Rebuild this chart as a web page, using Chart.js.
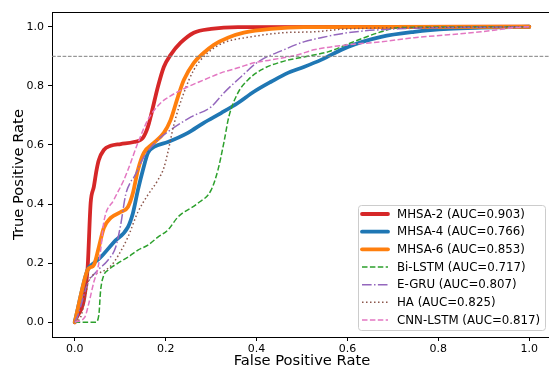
<!DOCTYPE html>
<html>
<head>
<meta charset="utf-8">
<script src="https://cdn.jsdelivr.net/npm/chart.js@4.4.1/dist/chart.umd.min.js"></script>
<style>
html,body{margin:0;padding:0;background:#fff;overflow:hidden;}
#wrap{width:549px;height:368px;overflow:hidden;position:relative;}
#c{position:absolute;left:0;top:0;}
</style>
</head>
<body>
<div id="wrap"><canvas id="c" width="553" height="368" style="width:553px;height:368px"></canvas></div>
<script>
// ---- data ----
const seriesNames = ["MHSA-2", "MHSA-4", "MHSA-6", "Bi-LSTM", "E-GRU", "HA", "CNN-LSTM"];
const aucValues = ["0.903", "0.766", "0.853", "0.717", "0.807", "0.825", "0.817"];

const mhsa2X = [0,0.002,0.028,0.035,0.042,0.048,0.053,0.064,0.079,0.101,0.130,0.150,0.161,0.167,0.183,0.196,0.211,0.233,0.262,0.300,0.359,1.0];
const mhsa2Y = [0,0.007,0.176,0.403,0.458,0.515,0.549,0.583,0.597,0.603,0.610,0.624,0.661,0.695,0.797,0.864,0.905,0.946,0.980,0.993,0.999,1.0];

const mhsa4X = [0,0.028,0.042,0.057,0.086,0.117,0.128,0.139,0.150,0.161,0.174,0.205,0.249,0.284,0.322,0.359,0.394,0.432,0.469,0.504,0.542,0.601,0.674,0.747,0.822,0.894,1.0];
const mhsa4Y = [0,0.176,0.200,0.220,0.271,0.322,0.369,0.447,0.515,0.573,0.593,0.610,0.641,0.675,0.708,0.742,0.780,0.814,0.844,0.864,0.888,0.932,0.966,0.983,0.993,0.997,1.0];

const mhsa6X = [0,0.028,0.035,0.042,0.053,0.064,0.079,0.101,0.117,0.128,0.139,0.152,0.174,0.196,0.211,0.227,0.240,0.262,0.284,0.306,0.337,0.372,0.432,0.504,1.0];
const mhsa6Y = [0,0.176,0.186,0.193,0.254,0.319,0.353,0.373,0.390,0.437,0.515,0.573,0.607,0.641,0.685,0.763,0.820,0.878,0.912,0.939,0.963,0.980,0.993,0.999,1.0];

const bilstmX = [0,0.046,0.053,0.057,0.064,0.073,0.095,0.117,0.139,0.161,0.183,0.205,0.227,0.271,0.300,0.315,0.328,0.339,0.359,0.381,0.410,0.454,0.504,0.557,0.608,0.674,0.711,1.0];
const bilstmY = [0,0,0.024,0.108,0.159,0.176,0.200,0.220,0.244,0.261,0.288,0.312,0.356,0.403,0.447,0.515,0.607,0.695,0.776,0.820,0.854,0.881,0.898,0.915,0.946,0.983,0.997,1.0];

const egruX = [0,0.007,0.029,0.051,0.073,0.090,0.101,0.112,0.123,0.130,0.152,0.183,0.211,0.256,0.300,0.328,0.366,0.403,0.460,0.504,0.542,0.601,0.711,1.0];
const egruY = [0,0.024,0.132,0.176,0.210,0.254,0.329,0.431,0.475,0.490,0.559,0.617,0.651,0.695,0.729,0.776,0.831,0.881,0.922,0.949,0.963,0.980,0.993,1.0];

const haX = [0,0.013,0.022,0.031,0.057,0.079,0.095,0.117,0.139,0.161,0.183,0.196,0.205,0.218,0.240,0.262,0.293,0.328,0.388,0.460,0.526,0.601,1.0];
const haY = [0,0.017,0.075,0.142,0.169,0.190,0.224,0.288,0.373,0.431,0.481,0.522,0.576,0.668,0.776,0.854,0.912,0.946,0.966,0.980,0.983,0.993,1.0];

const cnnlstmX = [0,0.022,0.031,0.042,0.051,0.057,0.064,0.086,0.108,0.117,0.139,0.161,0.189,0.211,0.249,0.284,0.322,0.359,0.394,0.432,0.491,0.526,0.601,0.674,0.747,0.822,0.894,0.967,1.0];
const cnnlstmY = [0,0.017,0.064,0.136,0.183,0.244,0.339,0.414,0.481,0.515,0.607,0.685,0.742,0.766,0.797,0.820,0.844,0.861,0.878,0.888,0.905,0.922,0.939,0.949,0.963,0.973,0.983,0.997,1.0];

const thresholdX = [-0.05, 1.05];
const thresholdY = [0.9, 0.9];

const xTicks = [0.0, 0.2, 0.4, 0.6, 0.8, 1.0];
const yTicks = [0.0, 0.2, 0.4, 0.6, 0.8, 1.0];

// ---- styles ----
const seriesX = [mhsa2X, mhsa4X, mhsa6X, bilstmX, egruX, haX, cnnlstmX];
const seriesY = [mhsa2Y, mhsa4Y, mhsa6Y, bilstmY, egruY, haY, cnnlstmY];
const colors = ["#d62728", "#1f77b4", "#ff7f0e", "#2ca02c", "#9467bd", "#8c564b", "#e377c2"];
const widths = [3.8, 3.8, 3.8, 1.5, 1.5, 1.5, 1.5];
const dashes = [[], [], [], [5.5, 2.4], [9.6, 2.4, 1.5, 2.4], [1.5, 2.5], [5.5, 2.4]];

function zip(xs, ys){ return xs.map((x,i)=>({x:x, y:ys[i]})); }

const datasets = seriesNames.map((n,i)=>({
  label: n + " (AUC=" + aucValues[i] + ")",
  data: zip(seriesX[i], seriesY[i]),
  borderColor: colors[i],
  borderWidth: widths[i],
  borderDash: dashes[i],
  borderCapStyle: dashes[i].length ? 'butt' : 'round',
  borderJoinStyle: 'round',
  pointRadius: 0,
  fill: false,
  cubicInterpolationMode: 'monotone',
  order: 10 - i
}));
datasets.push({
  label: "threshold",
  data: zip(thresholdX, thresholdY),
  borderColor: "#808080",
  borderWidth: 1,
  borderDash: [3.7, 1.6],
  pointRadius: 0,
  fill: false,
  order: 0
});

const frameAndLegend = {
  id: 'frameAndLegend',
  afterDatasetsDraw(chart){
    const ctx = chart.ctx, a = chart.chartArea;
    ctx.save();
    // top/right spines
    ctx.strokeStyle = '#000'; ctx.lineWidth = 1;
    ctx.beginPath();
    ctx.moveTo(a.left, a.top + 0.5); ctx.lineTo(a.right, a.top + 0.5);
    ctx.moveTo(a.right - 0.5, a.top); ctx.lineTo(a.right - 0.5, a.bottom);
    ctx.stroke();
    // legend box
    const bx = 358.5, by = 205.5, bw = 187, bh = 125, r = 3;
    ctx.beginPath();
    ctx.moveTo(bx + r, by);
    ctx.arcTo(bx + bw, by, bx + bw, by + bh, r);
    ctx.arcTo(bx + bw, by + bh, bx, by + bh, r);
    ctx.arcTo(bx, by + bh, bx, by, r);
    ctx.arcTo(bx, by, bx + bw, by, r);
    ctx.closePath();
    ctx.fillStyle = 'rgba(255,255,255,0.8)';
    ctx.fill();
    ctx.strokeStyle = '#cccccc'; ctx.lineWidth = 1;
    ctx.stroke();
    ctx.font = '11.8px "DejaVu Sans"';
    ctx.textBaseline = 'middle';
    ctx.textAlign = 'left';
    for (let i = 0; i < seriesNames.length; i++){
      const ds = chart.data.datasets[i];
      const y = 214 + i * 17.67;
      ctx.beginPath();
      ctx.setLineDash(ds.borderDash);
      ctx.lineCap = ds.borderDash.length ? 'butt' : 'round';
      ctx.strokeStyle = ds.borderColor;
      ctx.lineWidth = ds.borderWidth;
      ctx.moveTo(362, y); ctx.lineTo(388, y);
      ctx.stroke();
      ctx.setLineDash([]);
      ctx.fillStyle = '#000';
      ctx.fillText(ds.label, 397, y + 0.5);
    }
    ctx.restore();
  }
};

Chart.defaults.font.family = '"DejaVu Sans", sans-serif';
Chart.defaults.color = '#000';

new Chart(document.getElementById('c'), {
  type: 'line',
  data: { datasets: datasets },
  options: {
    responsive: false,
    animation: false,
    devicePixelRatio: 1,
    layout: { padding: { left: 0, right: 1, top: 12, bottom: 0 } },
    plugins: { legend: { display: false }, tooltip: { enabled: false } },
    scales: {
      x: {
        type: 'linear',
        min: -0.05, max: 1.05,
        afterBuildTicks(s){ s.ticks = xTicks.map(v=>({value:v})); },
        afterFit(s){ s.height = 31; },
        ticks: { font: { size: 11 }, padding: 2, maxRotation: 0, autoSkip: false,
                 callback: v => Number(v).toFixed(1) },
        grid: { display: true, drawOnChartArea: false, drawTicks: true, tickLength: 4, color: '#000', lineWidth: 1 },
        border: { display: true, color: '#000', width: 1 },
        title: { display: true, text: 'False Positive Rate', font: { size: 14.7, lineHeight: 0.8 }, padding: { top: 0, bottom: 0.5 } }
      },
      y: {
        type: 'linear',
        min: -0.05, max: 1.05,
        afterBuildTicks(s){ s.ticks = yTicks.map(v=>({value:v})); },
        afterFit(s){ s.width = 52; },
        ticks: { font: { size: 11 }, padding: 4, autoSkip: false,
                 callback: v => Number(v).toFixed(1) },
        grid: { display: true, drawOnChartArea: false, drawTicks: true, tickLength: 4, color: '#000', lineWidth: 1 },
        border: { display: true, color: '#000', width: 1 },
        title: { display: true, text: 'True Positive Rate', font: { size: 14.7, lineHeight: 0.8 }, padding: { top: 13.5, bottom: 0 } }
      }
    }
  },
  plugins: [frameAndLegend]
});
</script>
</body>
</html>
